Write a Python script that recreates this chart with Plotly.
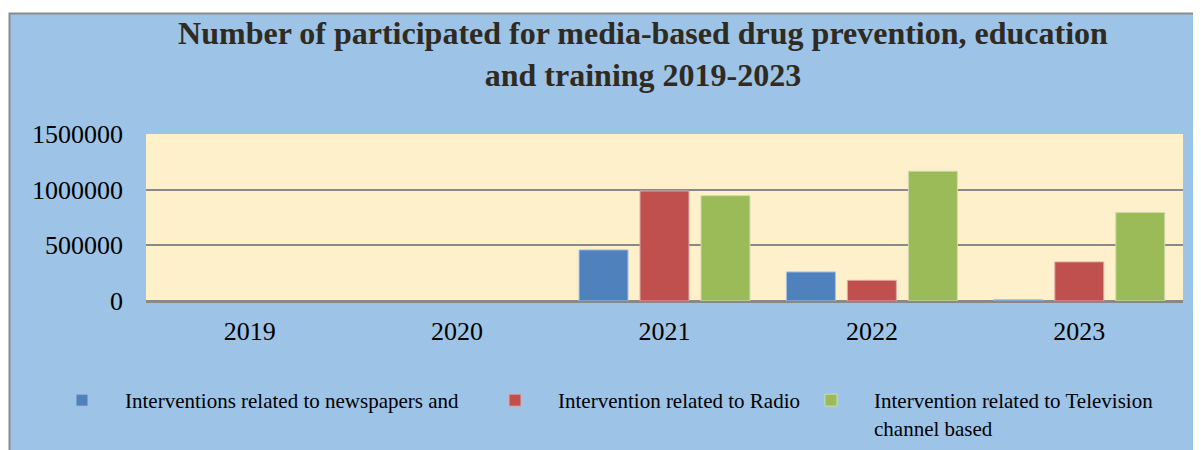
import plotly.graph_objects as go

years = ["2019", "2020", "2021", "2022", "2023"]
newspapers = [None, None, 459000, 261000, 12000]
radio = [None, None, 988000, 186000, 351000]
television = [None, None, 946000, 1166000, 796000]

names = ["Interventions related to newspapers and",
         "Intervention related to Radio",
         "Intervention related to Television<br>channel based"]
colors = ["#4F81BD", "#C0504D", "#9BBB59"]
outlines = ["#A7BFDE", "#E0A9A7", "#CDDDAC"]
series = [newspapers, radio, television]
legends = ["legend", "legend2", "legend3"]

FONT = "Liberation Serif, Times New Roman, serif"
# page body has an 8px margin, so the figure is laid out in page pixels minus 8
W, H = 1193, 442
L, R, T, B = 138, 18, 126, 149

fig = go.Figure()
for nm, vals, c, oc, lg in zip(names, series, colors, outlines, legends):
    fig.add_trace(go.Bar(x=years, y=vals, name=nm, marker=dict(color=c, line=dict(color=oc, width=1)),
                         legend=lg, showlegend=True))

ph = H - T - B
pw = W - L - R
def px_x(p):
    return (p - L) / pw
def px_y(p):
    return (H - B - p) / ph

legfont = dict(family=FONT, size=21, color="#000000")
legcommon = dict(orientation="h", xref="container", yref="container", xanchor="left", yanchor="top",
                 bgcolor="rgba(0,0,0,0)", font=legfont, itemwidth=76, valign="top")

fig.update_layout(
    width=W, height=H,
    margin=dict(l=L, r=R, t=T, b=B, autoexpand=False),
    showlegend=True,
    paper_bgcolor="#FFFFFF",
    plot_bgcolor="rgba(0,0,0,0)",
    barmode="group", bargap=0.118, bargroupgap=0.197,
    title=dict(text="Number of participated for media-based drug prevention, education<br>and training 2019-2023",
               x=635 / W, xanchor="center", xref="container", y=1 - 36 / H, yanchor="top", yref="container",
               font=dict(family=FONT, size=32, color="#2F2A22", weight="bold")),
    font=dict(family=FONT, color="#000000"),
    legend=dict(x=31 / W, y=1 - 372 / H, **legcommon),
    legend2=dict(x=464 / W, y=1 - 372 / H, **legcommon),
    legend3=dict(x=780 / W, y=1 - 372 / H, **legcommon),
    shapes=[dict(type="rect", xref="paper", yref="paper", layer="below",
                 x0=px_x(1.5), x1=px_x(1215), y0=px_y(470), y1=px_y(5.5),
                 fillcolor="#9DC3E6", line=dict(color="#8C8C8C", width=2)),
            dict(type="rect", xref="paper", yref="paper", layer="below",
                 x0=0, x1=1, y0=0, y1=1, fillcolor="#FFF0CC", line=dict(width=0))],
)
fig.update_xaxes(showline=True, linecolor="#898989", linewidth=2, ticks="", showgrid=False, automargin=False,
                 tickfont=dict(family=FONT, size=26, color="#000000"), ticklabelstandoff=6)
fig.update_yaxes(range=[0, 1500000], tickvals=[0, 500000, 1000000, 1500000],
                 ticktext=["0", "500000", "1000000", "1500000"], automargin=False,
                 showgrid=True, gridcolor="#898989", gridwidth=2,
                 zeroline=True, zerolinecolor="#898989", zerolinewidth=2,
                 tickfont=dict(family=FONT, size=26, color="#000000"), ticklabelstandoff=22)

fig.write_html("out.html")
